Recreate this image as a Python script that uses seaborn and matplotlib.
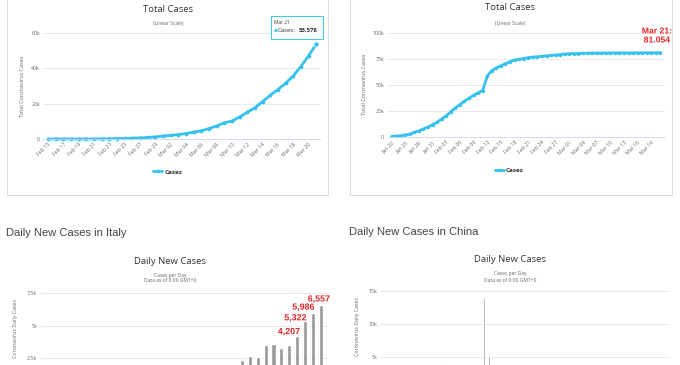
import matplotlib.pyplot as plt
import seaborn as sns
import pandas as pd
import matplotlib.patheffects as pe
from matplotlib.patches import Rectangle

# total cases in Italy, Feb 15 .. Mar 21
italy_total = [3, 3, 3, 3, 3, 3, 20, 79, 157, 229, 323, 470, 655, 889, 1128,
               1694, 2036, 2502, 3089, 3858, 4636, 5883, 7375, 9172, 10149,
               12462, 15113, 17660, 21157, 24747, 27980, 31506, 35713, 41035,
               47021, 53578]
italy_ticks = ["Feb 15", "Feb 17", "Feb 19", "Feb 21", "Feb 23", "Feb 25",
               "Feb 27", "Feb 29", "Mar 02", "Mar 04", "Mar 06", "Mar 08",
               "Mar 10", "Mar 12", "Mar 14", "Mar 16", "Mar 18", "Mar 20"]

# total cases in China, Jan 22 .. Mar 21
china_total = [571, 830, 1287, 1975, 2744, 4515, 5974, 7711, 9692, 11791,
               14380, 17205, 20440, 24324, 28018, 31161, 34546, 37198, 40171,
               42638, 44653, 58761, 63851, 66492, 68500, 70548, 72436, 74185,
               74576, 75465, 76288, 76936, 77150, 77658, 78064, 78497, 78824,
               79251, 79824, 80026, 80151, 80270, 80409, 80552, 80651, 80695,
               80735, 80754, 80778, 80793, 80813, 80824, 80844, 80860, 80881,
               80894, 80928, 80967, 81008, 81054]
china_ticks = ["Jan 22", "Jan 25", "Jan 28", "Jan 31", "Feb 03", "Feb 06",
               "Feb 09", "Feb 12", "Feb 15", "Feb 18", "Feb 21", "Feb 24",
               "Feb 27", "Mar 01", "Mar 04", "Mar 07", "Mar 10", "Mar 13",
               "Mar 16", "Mar 19"]

# daily new cases
italy_daily = [0, 0, 0, 0, 0, 0, 17, 59, 78, 72, 94, 147, 185, 234, 239,
               566, 342, 466, 587, 769, 778, 1247, 1492, 1797, 977, 2313,
               2651, 2547, 3497, 3590, 3233, 3526, 4207, 5322, 5986, 6557]
china_daily = [0, 259, 457, 688, 769, 1771, 1459, 1737, 1981, 2099,
               2589, 2825, 3235, 3884, 3694, 3143, 3385, 2652, 2973, 2467,
               2015, 14108, 5090, 2641, 2008, 2048, 1888, 1749, 391, 889,
               823, 648, 214, 508, 406, 433, 327, 427, 573,
               202, 125, 119, 139, 143, 99, 44, 40, 19, 24,
               15, 20, 11, 20, 16, 21, 13, 34, 39, 41, 46]
italy_labeled = [4207, 5322, 5986, 6557]

CYAN = "#35c3ee"
BAR = "#999999"
RED = "#e3262b"
GRID = "#e6e6e6"
W, H = 680, 365

sns.set_style("white")
plt.rcParams["font.family"] = ["Open Sans", "DejaVu Sans"]

fig = plt.figure(figsize=(W / 100, H / 100), dpi=100)


def box(x0, y0, x1, y1):
    # pixel box (top-left origin) -> figure fraction rect
    return [x0 / W, 1 - y1 / H, (x1 - x0) / W, (y1 - y0) / H]


def ftext(x, y, s, **kw):
    kw.setdefault("ha", "center")
    kw.setdefault("va", "center")
    return fig.text(x / W, 1 - y / H, s, **kw)


def style(ax, yticks, ylabels):
    ax.set_yticks(yticks)
    ax.set_yticklabels(ylabels, fontsize=3.8, color="#666666")
    ax.grid(axis="y", color=GRID, lw=0.6)
    ax.set_axisbelow(True)
    sns.despine(ax=ax, left=True, top=True, right=True)
    ax.spines["bottom"].set_color("#ccd6eb")
    ax.spines["bottom"].set_linewidth(0.6)
    ax.tick_params(length=0, pad=2)
    ax.set_xlabel("")
    ax.set_ylabel("")


# card borders of the two upper charts
for x0, x1 in [(7, 328), (350, 672)]:
    fig.add_artist(Rectangle((x0 / W, 1 - 195 / H), (x1 - x0) / W, 200 / H,
                             transform=fig.transFigure, fill=False,
                             ec="#dadada", lw=0.7))

# ---- Italy total ----
ax1 = fig.add_axes(box(43, 33, 320, 139))
df1 = pd.DataFrame({"day": range(len(italy_total)), "cases": italy_total})
sns.lineplot(data=df1, x="day", y="cases", ax=ax1, color=CYAN, lw=2.0,
             marker="o", markersize=2.7, markeredgewidth=0, label="Cases",
             clip_on=False)
ax1.set_xlim(-0.65, 35.5)
ax1.set_ylim(0, 60000)
style(ax1, [0, 20000, 40000, 60000], ["0", "20k", "40k", "60k"])
ax1.set_xticks(range(0, len(italy_total), 2))
ax1.set_xticklabels(italy_ticks, rotation=45, ha="right", rotation_mode="anchor",
                    fontsize=3.8, color="#666666")
ax1.legend(loc="center", bbox_to_anchor=(0.45, -0.31), frameon=False,
           prop={"size": 4.6, "weight": "bold"}, handlelength=1.4,
           handletextpad=0.3, labelcolor="#333333")
ax1.scatter([len(italy_total) - 1], [italy_total[-1]], s=14, color=CYAN,
            edgecolor="white", lw=0.5, zorder=5, clip_on=False)

# tooltip
fig.add_artist(Rectangle((271 / W, 1 - 39 / H), 52 / W, 23 / H,
                         transform=fig.transFigure, fc="white", ec=CYAN,
                         lw=0.7, alpha=0.95, zorder=6))
ftext(274, 22, "Mar 21", fontsize=3.4, color="#333333", ha="left", zorder=7)
ftext(274, 30.5, "\u25cf", fontsize=3.2, color=CYAN, ha="left", zorder=7)
ftext(278, 30.5, "Cases:", fontsize=4.3, color="#333333", ha="left", zorder=7)
ftext(299, 30.5, "53,578", fontsize=4.3, color="#333333", ha="left",
      weight="bold", zorder=7)

ftext(168, 9, "Total Cases", fontsize=6.8, color="#333333")
ftext(168, 24, "(Linear Scale)", fontsize=3.6, color="#666666")
ftext(22, 86, "Total Coronavirus Cases", fontsize=4.0, color="#666666",
      rotation=90)

# ---- China total ----
ax2 = fig.add_axes(box(387, 33, 665, 137))
df2 = pd.DataFrame({"day": range(len(china_total)), "cases": china_total})
sns.lineplot(data=df2, x="day", y="cases", ax=ax2, color=CYAN, lw=2.0,
             marker="o", markersize=2.5, markeredgewidth=0, label="Cases",
             clip_on=False)
ax2.set_xlim(-1, 60)
ax2.set_ylim(0, 100000)
style(ax2, [0, 25000, 50000, 75000, 100000], ["0", "25k", "50k", "75k", "100k"])
ax2.set_xticks(range(0, len(china_total), 3))
ax2.set_xticklabels(china_ticks, rotation=45, ha="right", rotation_mode="anchor",
                    fontsize=3.8, color="#666666")
ax2.legend(loc="center", bbox_to_anchor=(0.44, -0.32), frameon=False,
           prop={"size": 4.6, "weight": "bold"}, handlelength=1.4,
           handletextpad=0.3, labelcolor="#333333")

ftext(510, 8, "Total Cases", fontsize=6.8, color="#333333")
ftext(510, 23, "(Linear Scale)", fontsize=3.6, color="#666666")
ftext(364, 84, "Total Coronavirus Cases", fontsize=4.0, color="#666666",
      rotation=90)
ftext(657, 35.5, "Mar 21:\n81.054", fontsize=6.2, color=RED, weight="bold",
      family="Liberation Sans", linespacing=1.0,
      path_effects=[pe.withStroke(linewidth=1.5, foreground="white")])

# ---- Italy daily ----
ax3 = fig.add_axes(box(40, 293, 328, 390.5))
df3 = pd.DataFrame({"day": range(len(italy_daily)), "new": italy_daily})
sns.barplot(data=df3, x="day", y="new", ax=ax3, color=BAR, saturation=1,
            width=0.52, native_scale=True)
ax3.set_xlim(-0.57, 35.9)
ax3.set_ylim(0, 7500)
style(ax3, [2500, 5000, 7500], ["2.5k", "5k", "7.5k"])
ax3.set_xticks([])
offsets = {4207: (-6, 3), 5322: (-7, 2.5), 5986: (-7, 4), 6557: (-1.5, 4.5)}
for v in italy_labeled:
    i = italy_daily.index(v)
    ax3.annotate(f"{v:,}", (i, v), xytext=offsets[v], textcoords="offset points",
                 ha="center", va="center", fontsize=6.4, color=RED,
                 weight="bold", family="Liberation Sans",
                 path_effects=[pe.withStroke(linewidth=1.5, foreground="white")])

ftext(6, 233, "Daily New Cases in Italy", fontsize=8, color="#444444",
      ha="left", family="Liberation Sans")
ftext(170, 261, "Daily New Cases", fontsize=6.8, color="#333333")
ftext(170, 275, "Cases per Day", fontsize=3.6, color="#666666")
ftext(170, 281, "Data as of 0:00 GMT+0", fontsize=3.6, color="#666666")
ftext(15, 328, "Coronavirus Daily Cases", fontsize=3.8, color="#666666",
      rotation=90)

# ---- China daily ----
ax4 = fig.add_axes(box(380, 291, 670, 390))
df4 = pd.DataFrame({"day": range(len(china_daily)), "new": china_daily})
sns.barplot(data=df4, x="day", y="new", ax=ax4, color="#8f8f8f", saturation=1,
            width=0.42, native_scale=True)
ax4.set_xlim(-0.6, 59.8)
ax4.set_ylim(0, 15000)
style(ax4, [5000, 10000, 15000], ["5k", "10k", "15k"])
ax4.set_xticks([])

ftext(349, 232, "Daily New Cases in China", fontsize=8, color="#444444",
      ha="left", family="Liberation Sans")
ftext(510, 260, "Daily New Cases", fontsize=6.8, color="#333333")
ftext(510, 274, "Cases per Day", fontsize=3.6, color="#666666")
ftext(510, 280, "Data as of 0:00 GMT+0", fontsize=3.6, color="#666666")
ftext(358, 327, "Coronavirus Daily Cases", fontsize=3.8, color="#666666",
      rotation=90)

fig.savefig("out.png", dpi=100)
